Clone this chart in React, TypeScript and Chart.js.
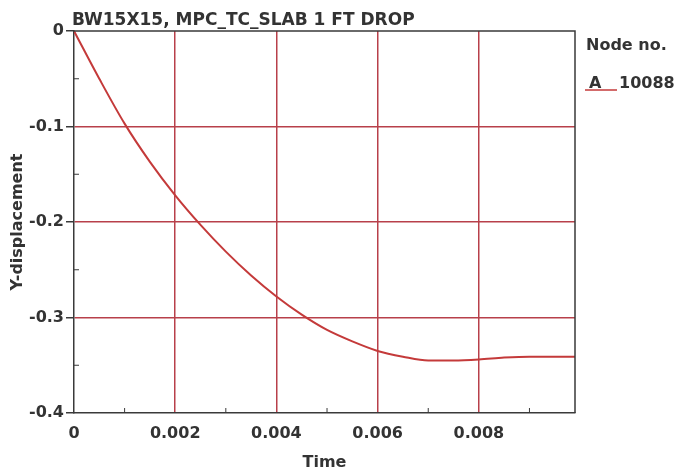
import React, { useEffect, useRef } from 'react';
import { Chart, registerables } from 'chart.js';

Chart.register(...registerables);

const chartTitle = 'BW15X15, MPC_TC_SLAB 1 FT DROP';
const xAxisTitle = 'Time';
const yAxisTitle = 'Y-displacement';
const legendHeader = 'Node no.';
const seriesLetter = 'A';
const seriesName = '10088';

const times = [0, 0.0005, 0.001, 0.0015, 0.002, 0.0025, 0.003, 0.0035, 0.004, 0.0045, 0.005, 0.0055, 0.006, 0.0065, 0.007, 0.0075, 0.008, 0.0085, 0.009, 0.0095, 0.0099];
const yDisp = [0, -0.050, -0.097, -0.137, -0.172, -0.203, -0.231, -0.256, -0.278, -0.297, -0.313, -0.325, -0.335, -0.341, -0.345, -0.345, -0.344, -0.342, -0.341, -0.341, -0.341];

const xTicks = [0, 0.002, 0.004, 0.006, 0.008];
const xTickLabels = ['0', '0.002', '0.004', '0.006', '0.008'];
const yTicks = [0, -0.1, -0.2, -0.3, -0.4];
const yTickLabels = ['0', '-0.1', '-0.2', '-0.3', '-0.4'];
const xMinorTicks = [0.001, 0.003, 0.005, 0.007, 0.009];
const yMinorTicks = [-0.05, -0.15, -0.25, -0.35];

const X_MIN = 0;
const X_MAX = 0.0099;
const Y_MIN = -0.4;
const Y_MAX = 0;

const GRID = '#b8404a';
const LINE = '#c43a3a';
const TEXT = '#333333';
const AXIS = '#3a3a3a';
const FONT = '"DejaVu Sans", sans-serif';

const decorPlugin = {
  id: 'decor',
  afterDraw(chart: any) {
    const { ctx, chartArea } = chart;
    const { left, right, top, bottom } = chartArea;
    const xs = chart.scales.x;
    const ys = chart.scales.y;
    ctx.save();
    ctx.strokeStyle = AXIS;
    ctx.lineWidth = 1.5;
    ctx.beginPath();
    ctx.moveTo(left, top);
    ctx.lineTo(right, top);
    ctx.lineTo(right, bottom);
    ctx.stroke();
    ctx.lineWidth = 1;
    ctx.beginPath();
    xMinorTicks.forEach((v) => {
      const px = xs.getPixelForValue(v);
      ctx.moveTo(px, bottom);
      ctx.lineTo(px, bottom - 5);
    });
    yMinorTicks.forEach((v) => {
      const py = ys.getPixelForValue(v);
      ctx.moveTo(left, py);
      ctx.lineTo(left + 5, py);
    });
    ctx.stroke();

    ctx.fillStyle = TEXT;
    ctx.font = `bold 17px ${FONT}`;
    ctx.textAlign = 'left';
    ctx.textBaseline = 'alphabetic';
    ctx.fillText(chartTitle, 72, 25);
    ctx.font = `bold 16px ${FONT}`;
    ctx.textAlign = 'center';
    ctx.textBaseline = 'middle';
    ctx.fillText(xAxisTitle, (left + right) / 2, 463);
    ctx.save();
    ctx.translate(18, (top + bottom) / 2);
    ctx.rotate(-Math.PI / 2);
    ctx.fillText(yAxisTitle, 0, 0);
    ctx.restore();
    ctx.textAlign = 'left';
    ctx.textBaseline = 'alphabetic';
    ctx.fillText(legendHeader, 586, 50);
    ctx.fillText(seriesLetter, 589, 88);
    ctx.fillText(seriesName, 619, 88);
    ctx.strokeStyle = LINE;
    ctx.lineWidth = 1.5;
    ctx.beginPath();
    ctx.moveTo(585, 90);
    ctx.lineTo(617, 90);
    ctx.stroke();
    ctx.restore();
  },
};

export default function App() {
  const ref = useRef<HTMLCanvasElement | null>(null);
  useEffect(() => {
    document.body.style.margin = '0';
    const canvas = ref.current;
    if (!canvas) return;
    const chart = new Chart(canvas, {
      type: 'scatter',
      data: {
        datasets: [
          {
            label: seriesName,
            data: times.map((t, i) => ({ x: t, y: yDisp[i] })),
            showLine: true,
            borderColor: LINE,
            borderWidth: 2,
            pointRadius: 0,
            cubicInterpolationMode: 'monotone',
          },
        ],
      },
      options: {
        animation: false,
        responsive: false,
        devicePixelRatio: 1,
        layout: { padding: { top: 31, right: 102, left: 0, bottom: 0 } },
        plugins: { legend: { display: false }, tooltip: { enabled: false }, title: { display: false } },
        scales: {
          x: {
            type: 'linear',
            min: X_MIN,
            max: X_MAX,
            afterBuildTicks: (s: any) => {
              s.ticks = xTicks.map((v) => ({ value: v }));
            },
            afterFit: (s: any) => {
              s.height = 60;
            },
            ticks: {
              autoSkip: false,
              maxRotation: 0,
              padding: 11,
              color: TEXT,
              font: { family: FONT, size: 16, weight: 'bold' },
              callback: (v: any) => {
                const i = xTicks.findIndex((t) => Math.abs(t - v) < 1e-9);
                return i >= 0 ? xTickLabels[i] : '';
              },
            },
            grid: {
              drawTicks: false,
              lineWidth: 1.5,
              color: (c: any) => (c.tick && Math.abs(c.tick.value) < 1e-12 ? 'rgba(0,0,0,0)' : GRID),
            },
            border: { display: true, color: AXIS, width: 1.5 },
          },
          y: {
            type: 'linear',
            min: Y_MIN,
            max: Y_MAX,
            afterBuildTicks: (s: any) => {
              s.ticks = yTicks.map((v) => ({ value: v }));
            },
            afterFit: (s: any) => {
              s.width = 74;
            },
            ticks: {
              autoSkip: false,
              padding: 2,
              color: TEXT,
              font: { family: FONT, size: 16, weight: 'bold' },
              callback: (v: any) => {
                const i = yTicks.findIndex((t) => Math.abs(t - v) < 1e-9);
                return i >= 0 ? yTickLabels[i] : '';
              },
            },
            grid: {
              drawTicks: true,
              tickLength: 8,
              lineWidth: 1.5,
              tickColor: AXIS,
              color: (c: any) =>
                c.tick && (Math.abs(c.tick.value) < 1e-12 || Math.abs(c.tick.value - Y_MIN) < 1e-12) ? 'rgba(0,0,0,0)' : GRID,
            },
            border: { display: true, color: AXIS, width: 1.5 },
          },
        },
      },
      plugins: [decorPlugin],
    } as any);
    return () => chart.destroy();
  }, []);
  return <canvas ref={ref} width={677} height={473} style={{ display: 'block' }} />;
}
